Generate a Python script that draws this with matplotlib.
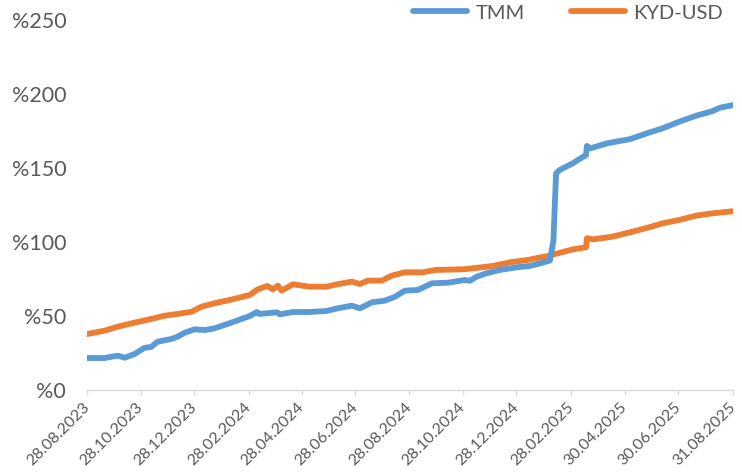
import matplotlib
matplotlib.use("Agg")
import matplotlib.pyplot as plt
import pandas as pd

plt.rcParams['font.family'] = ['Lato', 'DejaVu Sans']

tmm_dates = ["2023-08-28", "2023-09-17", "2023-10-02", "2023-10-10", "2023-10-21", "2023-11-01",
             "2023-11-09", "2023-11-16", "2023-12-02", "2023-12-09", "2023-12-17", "2023-12-28",
             "2024-01-09", "2024-01-20", "2024-02-06", "2024-02-29", "2024-03-08", "2024-03-11",
             "2024-03-31", "2024-04-03", "2024-04-18", "2024-05-07", "2024-05-26", "2024-06-08",
             "2024-06-24", "2024-07-03", "2024-07-17", "2024-07-31", "2024-08-12", "2024-08-23",
             "2024-09-07", "2024-09-23", "2024-10-11", "2024-10-30", "2024-11-05", "2024-11-13",
             "2024-11-24", "2024-12-09", "2024-12-28", "2025-01-12", "2025-01-24", "2025-02-04",
             "2025-02-08", "2025-02-09", "2025-02-11", "2025-02-15", "2025-03-02", "2025-03-14",
             "2025-03-17", "2025-03-18", "2025-03-22", "2025-04-10", "2025-05-06", "2025-05-28",
             "2025-06-12", "2025-07-01", "2025-07-20", "2025-08-08", "2025-08-16", "2025-08-31"]
tmm_values = [21.6, 21.6, 23.2, 21.8, 24.3, 28.4,
              29.1, 32.6, 34.5, 36.0, 38.7, 41.0,
              40.5, 41.7, 45.1, 50.0, 52.7, 51.4,
              52.5, 51.1, 52.7, 52.7, 53.4, 55.2,
              57.0, 55.2, 59.3, 60.3, 63.0, 67.1,
              67.6, 72.1, 72.5, 74.3, 73.8, 76.6,
              78.9, 81.1, 82.9, 83.8, 85.6, 87.5,
              101.0, 117.0, 146.4, 148.6, 153.2, 157.7,
              158.5, 164.9, 163.3, 166.7, 169.5, 174.0,
              176.8, 181.3, 185.3, 188.5, 190.7, 192.5]

kyd_dates = ["2023-08-28", "2023-09-17", "2023-10-02", "2023-10-21", "2023-11-09", "2023-11-24",
             "2023-12-09", "2023-12-25", "2024-01-05", "2024-01-20", "2024-02-06", "2024-02-29",
             "2024-03-09", "2024-03-20", "2024-03-26", "2024-04-01", "2024-04-05", "2024-04-18",
             "2024-05-07", "2024-05-26", "2024-06-07", "2024-06-24", "2024-07-03", "2024-07-12",
             "2024-07-28", "2024-08-08", "2024-08-23", "2024-09-12", "2024-09-27", "2024-10-30",
             "2024-12-01", "2024-12-21", "2025-01-09", "2025-02-01", "2025-03-02", "2025-03-17",
             "2025-03-18", "2025-03-25", "2025-04-16", "2025-05-13", "2025-05-28", "2025-06-12",
             "2025-07-01", "2025-07-20", "2025-08-08", "2025-08-31"]
kyd_values = [37.8, 40.1, 42.8, 45.5, 48.0, 50.2,
              51.4, 52.9, 56.3, 58.6, 60.8, 64.2,
              68.0, 70.3, 68.0, 70.5, 67.1, 71.4,
              69.8, 69.8, 71.4, 73.2, 71.6, 73.9,
              73.9, 77.2, 79.5, 79.5, 81.1, 81.6,
              83.8, 86.3, 87.8, 90.5, 95.0, 96.4,
              102.5, 101.8, 103.6, 107.6, 110.0, 112.6,
              114.9, 117.8, 119.4, 120.8]

tick_dates = ["2023-08-28", "2023-10-28", "2023-12-28", "2024-02-28", "2024-04-28", "2024-06-28",
              "2024-08-28", "2024-10-28", "2024-12-28", "2025-02-28", "2025-04-30", "2025-06-30",
              "2025-08-31"]
tick_labels = ["28.08.2023", "28.10.2023", "28.12.2023", "28.02.2024", "28.04.2024", "28.06.2024",
               "28.08.2024", "28.10.2024", "28.12.2024", "28.02.2025", "30.04.2025", "30.06.2025",
               "31.08.2025"]
y_ticks = [0, 50, 100, 150, 200, 250]
y_labels = ["%0", "%50", "%100", "%150", "%200", "%250"]

fig = plt.figure(figsize=(7.42, 4.72), dpi=100)
ax = fig.add_axes([87/742, 1-390/472, (733-87)/742, (390-20)/472])

blue = "#5B9BD5"
orange = "#ED7D31"
ax.plot(pd.to_datetime(tmm_dates), tmm_values, color=blue, lw=4.2, solid_capstyle='round',
        solid_joinstyle='round', label="TMM", zorder=3)
ax.plot(pd.to_datetime(kyd_dates), kyd_values, color=orange, lw=4.2, solid_capstyle='round',
        solid_joinstyle='round', label="KYD-USD", zorder=2)

ax.set_xlim(pd.Timestamp("2023-08-28"), pd.Timestamp("2025-08-31"))
ax.set_ylim(0, 250)
ax.set_yticks(y_ticks)
ax.set_yticklabels(y_labels)
ax.set_xticks(pd.to_datetime(tick_dates))
ax.set_xticklabels(tick_labels, rotation=45, ha='right', va='center', rotation_mode='anchor')

for s in ['top', 'right', 'left']:
    ax.spines[s].set_visible(False)
ax.spines['bottom'].set_color('#D9D9D9')
ax.spines['bottom'].set_linewidth(1.0)
ax.tick_params(axis='y', length=0, pad=15, labelsize=15.5, labelcolor='#595959')
ax.tick_params(axis='x', length=3.5, width=1.0, color='#D9D9D9', pad=7.5, labelsize=11.5,
               labelcolor='#595959')

fig.legend(loc='center right', bbox_to_anchor=(723/742, 1-13/472), ncol=2, frameon=False,
           fontsize=14.5, labelcolor='#595959', handlelength=2.7, handletextpad=0.4,
           columnspacing=2.3, borderaxespad=0.0, borderpad=0.0)

fig.savefig("out.png", dpi=100)
